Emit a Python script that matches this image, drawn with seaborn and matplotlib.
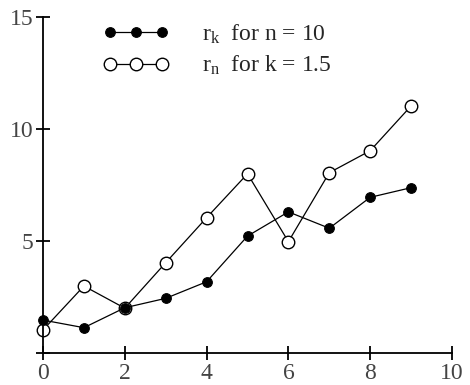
import numpy as np
import pandas as pd
import matplotlib
matplotlib.use("Agg")
import matplotlib.pyplot as plt
import seaborn as sns

# data
x_vals = [0, 1, 2, 3, 4, 5, 6, 7, 8, 9]
r_k = [1.47, 1.13, 2.02, 2.44, 3.18, 5.22, 6.30, 5.57, 6.95, 7.38]
r_n = [1.03, 2.99, 2.00, 4.03, 6.04, 8.00, 4.97, 8.05, 9.03, 11.03]
label_k = r"$\mathrm{r}_\mathrm{k}$  for n = 10"
label_n = r"$\mathrm{r}_\mathrm{n}$  for k = 1.5"
xticks = [0, 2, 4, 6, 8, 10]
yticks = [0, 5, 10, 15]
ytick_labels = ["", "5", "10", "15"]

df = pd.DataFrame({"x": x_vals, "r_k": r_k, "r_n": r_n})

sns.set_style("ticks")
plt.rcParams["font.family"] = ["Liberation Serif", "DejaVu Serif"]
plt.rcParams["mathtext.fontset"] = "custom"
plt.rcParams["mathtext.rm"] = "Liberation Serif"
plt.rcParams["mathtext.it"] = "Liberation Serif:italic"

fig = plt.figure(figsize=(4.7, 3.85), dpi=100)
ax = fig.add_axes([43 / 470, 1 - 353 / 385, (452 - 43) / 470, (353 - 17) / 385])

# open circles first, filled on top
sns.lineplot(data=df, x="x", y="r_n", ax=ax, color="black", lw=0.9,
             marker="o", markersize=9, markerfacecolor="white",
             markeredgecolor="black", markeredgewidth=1.0,
             clip_on=False, label=label_n)
sns.lineplot(data=df, x="x", y="r_k", ax=ax, color="black", lw=0.9,
             marker="o", markersize=7, markerfacecolor="black",
             markeredgecolor="black", clip_on=False, label=label_k)

ax.set_xlim(0, 10)
ax.set_ylim(0, 15)
ax.set_xticks(xticks)
ax.set_yticks(yticks)
ax.set_yticklabels(ytick_labels)
ax.set_xlabel("")
ax.set_ylabel("")

for side in ["top", "right"]:
    ax.spines[side].set_visible(False)
for side in ["left", "bottom"]:
    ax.spines[side].set_linewidth(1.3)
    ax.spines[side].set_color("black")

ax.tick_params(direction="inout", length=10, width=1.3, colors="black",
               labelcolor="#444444", labelsize=17, pad=2)

handles, labels = ax.get_legend_handles_labels()
leg = ax.legend(handles[::-1], labels[::-1], loc="upper left",
                bbox_to_anchor=(0.095, 1.047), frameon=False, numpoints=3,
                handlelength=2.8, handletextpad=1.4, labelspacing=0.35,
                fontsize=17)

plt.savefig("out.png", dpi=100)
plt.close()
